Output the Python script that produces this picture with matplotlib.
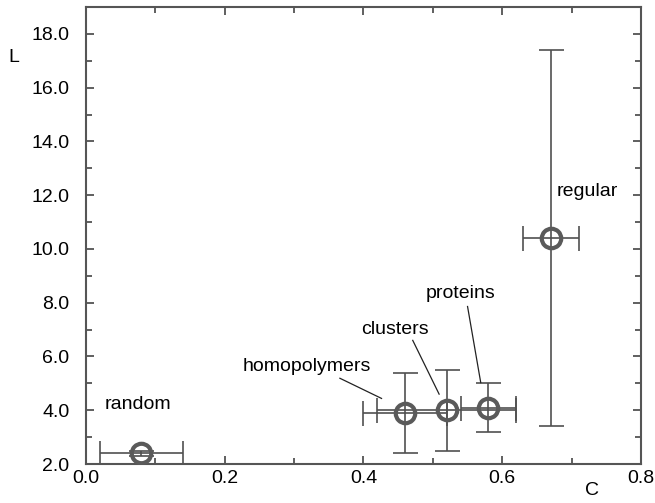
import numpy as np
import matplotlib.pyplot as plt
from matplotlib.ticker import MultipleLocator, FormatStrFormatter

plt.rcParams['font.family'] = ['Liberation Sans', 'DejaVu Sans']

# data
names = ['random', 'homopolymers', 'clusters', 'proteins', 'regular']
C = np.array([0.08, 0.46, 0.52, 0.58, 0.67])
L = np.array([2.40, 3.90, 4.00, 4.10, 10.40])
C_err_lo = np.array([0.06, 0.06, 0.10, 0.04, 0.04])
C_err_hi = np.array([0.06, 0.06, 0.10, 0.04, 0.04])
L_err_lo = np.array([0.10, 1.50, 1.50, 0.90, 7.00])
L_err_hi = np.array([0.10, 1.50, 1.50, 0.90, 7.00])

# label positions (left edge, vertical centre) and leader lines
label_x = [0.027, 0.226, 0.396, 0.489, 0.678]
label_y = [4.22, 5.62, 6.99, 8.33, 12.12]
leaders = {
    'homopolymers': ((0.366, 5.19), (0.426, 4.44)),
    'clusters': ((0.471, 6.60), (0.509, 4.60)),
    'proteins': ((0.550, 7.86), (0.569, 5.03)),
}

fig = plt.figure(figsize=(6.55, 5.03), dpi=100)
ax = fig.add_axes([0.1313, 0.0775, 0.8473, 0.9085])

ax.errorbar(C, L, xerr=[C_err_lo, C_err_hi], yerr=[L_err_lo, L_err_hi],
            fmt='none', ecolor='#505050', elinewidth=1.2, capsize=9,
            capthick=1.2, zorder=2)
ax.plot(C, L, 'o', ms=14, mfc='none', mec='#5a5a5a', mew=3, zorder=3)

for n, x, y in zip(names, label_x, label_y):
    ax.text(x, y, n, fontsize=14, ha='left', va='center')
for n, (p0, p1) in leaders.items():
    ax.plot([p0[0], p1[0]], [p0[1], p1[1]], color='#222222', lw=0.9)

ax.set_xlim(0, 0.8)
ax.set_ylim(2, 19)
ax.xaxis.set_major_locator(MultipleLocator(0.2))
ax.xaxis.set_minor_locator(MultipleLocator(0.1))
ax.yaxis.set_major_locator(MultipleLocator(2))
ax.yaxis.set_minor_locator(MultipleLocator(1))
ax.xaxis.set_major_formatter(FormatStrFormatter('%.1f'))
ax.yaxis.set_major_formatter(FormatStrFormatter('%.1f'))
ax.tick_params(which='both', direction='in', top=True, right=True,
               labelsize=14, color='#444444', width=1.2)
ax.tick_params(which='major', length=6)
ax.tick_params(which='minor', length=4)
ax.tick_params(axis='y', pad=12)
ax.tick_params(axis='x', pad=4)
for s in ax.spines.values():
    s.set_color('#555555')
    s.set_linewidth(1.5)

ax.set_xlabel('C', fontsize=14, va='center', ha='center')
ax.xaxis.set_label_coords(0.912, -0.057)
ax.set_ylabel('L', fontsize=14, rotation=0, va='center', ha='center')
ax.yaxis.set_label_coords(-0.13, 0.89)

fig.savefig('out.png', dpi=100)
